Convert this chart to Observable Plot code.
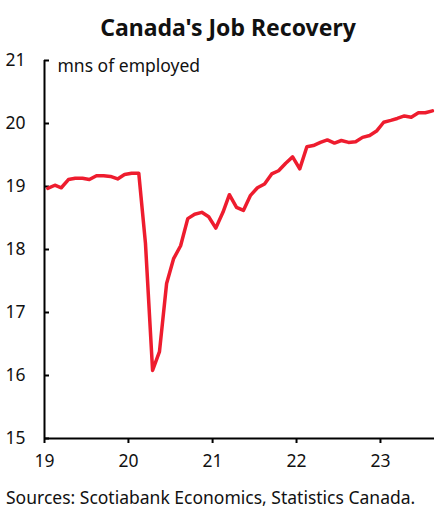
<!DOCTYPE html>
<html>
<head>
<meta charset="utf-8">
<script src="https://cdn.jsdelivr.net/npm/d3@7"></script>
<script src="https://cdn.jsdelivr.net/npm/@observablehq/plot@0.6"></script>
<style>
  html, body { margin: 0; padding: 0; background: #fff; }
  body { width: 448px; font-family: "Noto Sans", sans-serif; color: #111; }
  #title { height: 48px; line-height: 55px; text-align: center; font-weight: bold; font-size: 23px; padding-left: 8px; box-sizing: border-box; }
  #caption { font-size: 17.5px; line-height: 19px; padding-left: 6px; white-space: nowrap; }
  svg { display: block; }
</style>
</head>
<body>
<div id="title">Canada's Job Recovery</div>
<div id="chart"></div>
<div id="caption">Sources: Scotiabank Economics, Statistics Canada.</div>
<script>
// Employment, millions (monthly)
const emp2019 = [18.97, 19.02, 18.98, 19.11, 19.13, 19.13, 19.11, 19.17, 19.17, 19.16, 19.12, 19.19];
const emp2020 = [19.21, 19.21, 18.10, 16.08, 16.38, 17.46, 17.85, 18.06, 18.49, 18.56, 18.59, 18.52];
const emp2021 = [18.34, 18.59, 18.87, 18.67, 18.62, 18.86, 18.98, 19.04, 19.20, 19.25, 19.37, 19.47];
const emp2022 = [19.28, 19.63, 19.65, 19.70, 19.74, 19.69, 19.73, 19.70, 19.71, 19.78, 19.81, 19.88];
const emp2023 = [20.02, 20.05, 20.08, 20.12, 20.10, 20.17, 20.17, 20.20];
const years = [2019, 2020, 2021, 2022, 2023];
const yTicks = [15, 16, 17, 18, 19, 20, 21];
const xTickYears = [2019, 2020, 2021, 2022, 2023];
const unitLabel = "mns of employed";

const series = [emp2019, emp2020, emp2021, emp2022, emp2023];
const data = [];
series.forEach((vals, i) => vals.forEach((v, m) => data.push({date: new Date(Date.UTC(years[i], m, 15)), value: v})));

const x0 = new Date(Date.UTC(2019, 0, 1));
const x1 = new Date(Date.UTC(2023, 7, 24));

const chart = Plot.plot({
  width: 448,
  height: 440,
  marginTop: 12,
  marginBottom: 50,
  marginLeft: 44,
  marginRight: 14,
  style: {fontFamily: "Noto Sans, sans-serif", fontSize: "17.5px", color: "#111", background: "#fff"},
  x: {type: "utc", domain: [x0, x1]},
  y: {domain: [15, 21]},
  marks: [
    Plot.axisY({ticks: yTicks, tickSize: -5, tickPadding: 24, strokeWidth: 2, stroke: "#000", tickFormat: d => String(d), label: null, fill: "#111", fontSize: 17.5}),
    Plot.axisX({ticks: xTickYears.map(y => new Date(Date.UTC(y, 0, 1))), tickSize: 5, tickPadding: 11, strokeWidth: 2, stroke: "#000", tickFormat: d3.utcFormat("%y"), label: null, fill: "#111", fontSize: 17.5}),
    Plot.ruleY([15], {stroke: "#000", strokeWidth: 2}),
    Plot.ruleX([x0], {stroke: "#000", strokeWidth: 2}),
    Plot.line(data, {x: "date", y: "value", stroke: "#ee1c2e", strokeWidth: 3.5, strokeLinejoin: "round", strokeLinecap: "round"}),
    Plot.text([unitLabel], {frameAnchor: "top-left", dx: 13, dy: 11, textAnchor: "start", lineAnchor: "bottom", fill: "#111", fontSize: 17.5})
  ]
});
document.getElementById("chart").appendChild(chart);
</script>
</body>
</html>
